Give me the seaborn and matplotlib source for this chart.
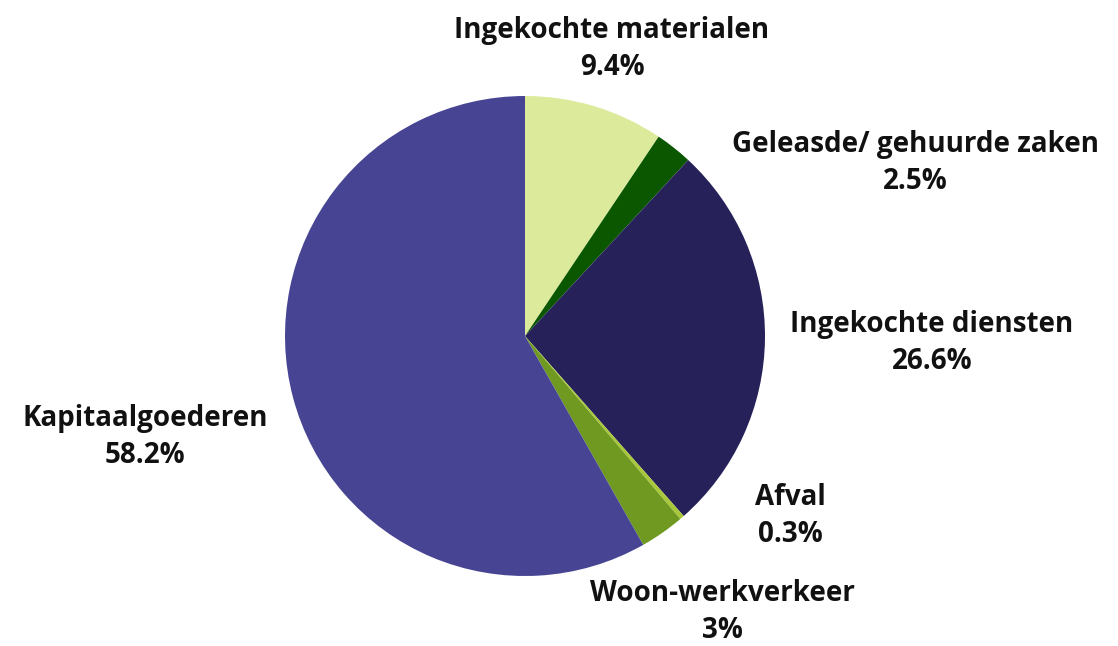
import matplotlib
matplotlib.use("Agg")
import matplotlib.pyplot as plt
import seaborn as sns

# data
categories = ["Ingekochte materialen", "Geleasde/ gehuurde zaken", "Ingekochte diensten",
              "Afval", "Woon-werkverkeer", "Kapitaalgoederen"]
shares = [9.4, 2.5, 26.6, 0.3, 3, 58.2]
share_labels = ["9.4%", "2.5%", "26.6%", "0.3%", "3%", "58.2%"]
colors = ["#dcea9b", "#0b5700", "#262158", "#a8c83a", "#6f9920", "#474593"]

# label centres, in units of the pie radius
label_pos = [(0.3625, 1.196), (1.625, 0.721), (1.696, -0.029),
             (1.104, -0.75), (0.821, -1.15), (-1.583, -0.421)]

sns.set_theme(style="white")
plt.rcParams['font.family'] = ['Open Sans', 'DejaVu Sans']

fig = plt.figure(figsize=(11.18, 6.46), dpi=100)
ax = fig.add_axes([0, 0, 1, 1])

ax.pie(shares, colors=colors, startangle=90, counterclock=False, radius=1,
       wedgeprops=dict(linewidth=0))

for (x, y), name, pct in zip(label_pos, categories, share_labels):
    ax.text(x, y, name + "\n" + pct, ha="center", va="center", fontsize=20,
            fontweight="bold", linespacing=1.35, color="#111111")

ax.set_xlim(-525 / 240, (1118 - 525) / 240)
ax.set_ylim(-(646 - 336) / 240, 336 / 240)
ax.set_aspect("equal")
ax.axis("off")

fig.savefig("out.png", dpi=100)
